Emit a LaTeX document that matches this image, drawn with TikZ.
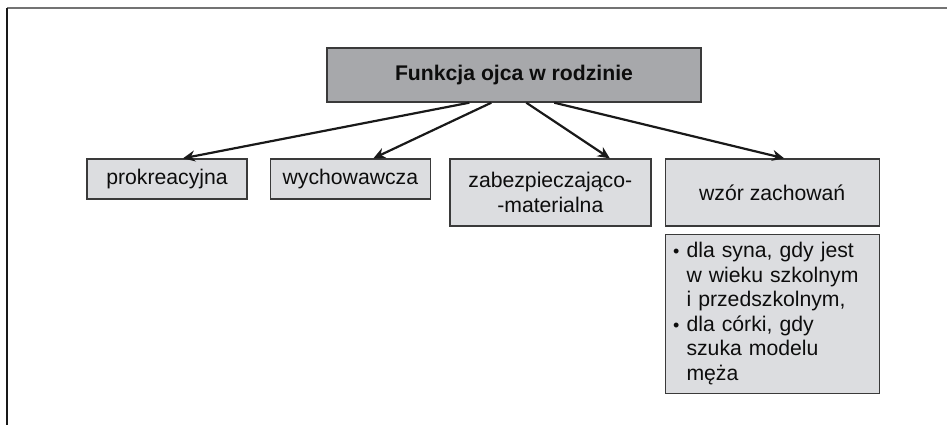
\documentclass[tikz,border=0pt]{standalone}
\usepackage{fontspec}
\setmainfont{Liberation Sans}
\usepackage{graphicx}
\usetikzlibrary{positioning}
\usetikzlibrary{calc}
\usetikzlibrary{arrows.meta}
\definecolor{ciemny}{HTML}{A7A8AB}
\definecolor{jasny}{HTML}{DCDDE0}
\definecolor{ramka}{HTML}{3A3A3A}
\newcommand{\kropka}{\scalebox{.85}{\textbullet}}

\begin{document}
\begin{tikzpicture}[x=0.5pt, y=-0.5pt,
	fnode/.style={rectangle,draw=ramka,fill=jasny,line width=.7pt,inner sep=0pt,text=black!95,font=\fontsize{10.6}{12.25}\selectfont},
	strz/.style={line width=1.1pt,black!90,-{Stealth[length=6pt,width=5.5pt]}}]
		\useasboundingbox (0,0) rectangle (947,425);
		\draw[line width=.75pt,black!55] (7,8) -- (947,8);
		\draw[line width=.75pt,black!90] (7,8) -- (7,425);
		\node[fnode,fill=ciemny,minimum width=187pt,minimum height=27pt,font=\bfseries\fontsize{10.6}{12.25}\selectfont] (funkcja) at (514,75) {Funkcja ojca w rodzinie};
		\node[fnode,minimum width=80pt,minimum height=20pt] (prok) at (167,179) {prokreacyjna};
		\node[fnode,minimum width=80pt,minimum height=20pt] (wych)[right = 11pt of prok] {wychowawcza};
		\node[fnode,minimum width=100.5pt,minimum height=33.5pt,align=center] (zabez)[right = 9pt of wych.north east, anchor=north west] {zabezpieczająco-\\-materialna};
		\node[fnode,minimum width=107pt,minimum height=33.5pt] (wzor)[right = 6.5pt of zabez] {wzór zachowań};
		\node[fnode,minimum height=79.5pt,inner xsep=4pt,text width=99pt,align=left] (lista)[below = 3.5pt of wzor] {%
			\begin{tabular}{@{}l@{\hspace{3.5pt}}l@{}}
				\kropka & dla syna, gdy jest\\
				& w wieku szkolnym\\
				& i przedszkolnym,\\
				\kropka & dla córki, gdy\\
				& szuka modelu\\
				& męża
			\end{tabular}};
		\draw[strz] ($(funkcja.south west)+(143,0)$) -- ($(prok.north)+(16,0)$);
		\draw[strz] ($(funkcja.south west)+(165,0)$) -- ($(wych.north)+(23,0)$);
		\draw[strz] ($(funkcja.south west)+(200,0)$) -- ($(zabez.north)+(59.5,0)$);
		\draw[strz] ($(funkcja.south west)+(228,0)$) -- ($(wzor.north)+(12,0)$);
	\end{tikzpicture}
\end{document}
